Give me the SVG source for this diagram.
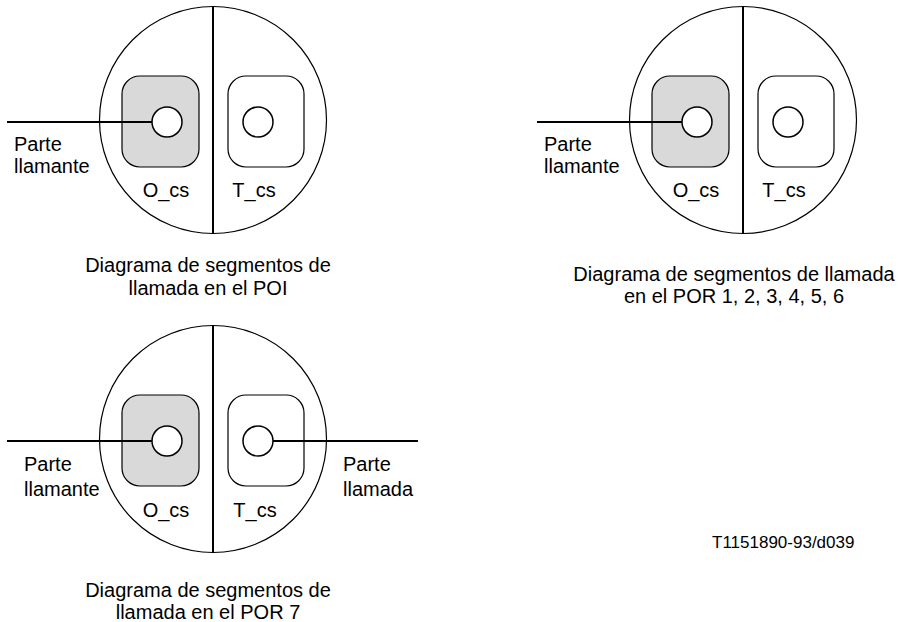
<svg xmlns="http://www.w3.org/2000/svg" width="901" height="622" viewBox="0 0 901 622">
<style>
  text { font-family: "Liberation Sans", Arial, sans-serif; font-size: 20px; fill: #000; }
  .mid { text-anchor: middle; }
  .outer { fill: #fff; stroke: #000; stroke-width: 1.2; }
  .divider { stroke: #000; stroke-width: 2; }
  .seg-o { fill: #d9d9d9; stroke: #000; stroke-width: 1.2; }
  .seg-t { fill: #fff; stroke: #000; stroke-width: 1.2; }
  .pt { fill: #fff; stroke: #000; stroke-width: 1.5; }
  .conn { stroke: #000; stroke-width: 2; fill: none; }
</style>
<defs>
  <g id="bcsm">
    <circle class="outer" cx="213" cy="120" r="113.5"/>
    <line class="divider" x1="213" y1="6.5" x2="213" y2="233.5"/>
    <rect class="seg-o" x="122" y="76" width="77" height="91" rx="18" ry="18"/>
    <rect class="seg-t" x="228" y="76" width="76" height="91" rx="18" ry="18"/>
  </g>
</defs>

<g id="diagram-poi">
  <use href="#bcsm"/>
  <circle class="pt" cx="167" cy="122" r="15"/>
  <circle class="pt" cx="258" cy="122" r="15"/>
  <text class="mid" x="166" y="197">O_cs</text>
  <text class="mid" x="254" y="197">T_cs</text>
</g>

<g id="diagram-por16">
  <use href="#bcsm" transform="translate(530,0)"/>
  <circle class="pt" cx="697" cy="122" r="15"/>
  <circle class="pt" cx="788" cy="122" r="15"/>
  <text class="mid" x="696" y="197">O_cs</text>
  <text class="mid" x="784" y="197">T_cs</text>
</g>

<g id="diagram-por7">
  <use href="#bcsm" transform="translate(0,319)"/>
  <circle class="pt" cx="167" cy="441" r="15"/>
  <circle class="pt" cx="258" cy="441" r="15"/>
  <text class="mid" x="166" y="517">O_cs</text>
  <text class="mid" x="255" y="517">T_cs</text>
</g>

<g id="connectors">
  <line class="conn" x1="7" y1="122" x2="152" y2="122"/>
  <line class="conn" x1="537" y1="122" x2="682" y2="122"/>
  <line class="conn" x1="7" y1="441" x2="152" y2="441"/>
  <line class="conn" x1="273" y1="441" x2="418" y2="441"/>
</g>

<g id="labels">
  <text x="14" y="151">Parte</text>
  <text x="14" y="173">llamante</text>
  <text x="544" y="151">Parte</text>
  <text x="544" y="173">llamante</text>
  <text x="24" y="471">Parte</text>
  <text x="24" y="496">llamante</text>
  <text x="343" y="471">Parte</text>
  <text x="343" y="496">llamada</text>
</g>

<g id="captions">
  <text class="mid" x="208" y="272">Diagrama de segmentos de</text>
  <text class="mid" x="208" y="295">llamada en el POI</text>
  <text class="mid" x="734" y="281">Diagrama de segmentos de llamada</text>
  <text class="mid" x="734" y="303">en el POR 1, 2, 3, 4, 5, 6</text>
  <text class="mid" x="208" y="597">Diagrama de segmentos de</text>
  <text class="mid" x="208" y="619">llamada en el POR 7</text>
  <text x="712" y="548" style="font-size:17px">T1151890-93/d039</text>
</g>
</svg>
